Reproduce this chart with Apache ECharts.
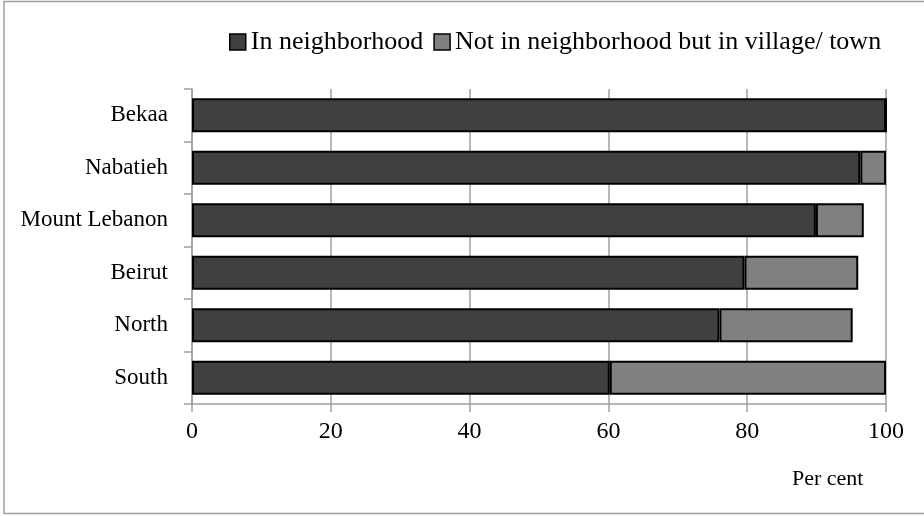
<!DOCTYPE html>
<html>
<head>
<meta charset="utf-8">
<script src="https://cdn.jsdelivr.net/npm/echarts@6/dist/echarts.min.js"></script>
<style>
html,body{margin:0;padding:0;background:#fff;}
#chart{width:924px;height:516px;}
</style>
</head>
<body>
<div id="chart"></div>
<script>
const categories = ["Bekaa", "Nabatieh", "Mount Lebanon", "Beirut", "North", "South"];
const inNeighborhood = [100, 96.3, 89.9, 79.6, 76.0, 60.2];
const inVillage = [0, 3.7, 6.9, 16.4, 19.2, 39.8];
const seriesNames = ["In neighborhood", "Not in neighborhood but in village/ town"];
const xTicks = [0, 20, 40, 60, 80, 100];
const axisTitle = "Per cent";

const FONT = "Liberation Serif";
const chart = echarts.init(document.getElementById('chart'), null, {renderer: 'canvas'});
chart.setOption({
  animation: false,
  backgroundColor: '#fff',
  textStyle: {fontFamily: FONT, color: '#000'},
  legend: {
    left: 224, top: 24,
    itemWidth: 16, itemHeight: 16, itemGap: 10,
    icon: 'rect',
    itemStyle: {borderColor: '#000', borderWidth: 1.5},
    textStyle: {fontFamily: FONT, fontSize: 26, color: '#000'},
    data: seriesNames
  },
  grid: {left: 192, right: 38, top: 89, bottom: 112, containLabel: false},
  xAxis: {
    type: 'value', min: xTicks[0], max: xTicks[xTicks.length-1], interval: 20,
    axisLine: {show: true, lineStyle: {color: '#a0a0a0', width: 1.5}},
    axisTick: {show: true, inside: false, length: 8, lineStyle: {color: '#a0a0a0', width: 1.5}},
    splitLine: {show: true, lineStyle: {color: '#a0a0a0', width: 1.5}},
    axisLabel: {fontFamily: FONT, fontSize: 24, color: '#000', margin: 16}
  },
  yAxis: {
    type: 'category', data: categories, inverse: true,
    axisLine: {show: true, lineStyle: {color: '#a0a0a0', width: 1.5}},
    axisTick: {show: true, length: 8, lineStyle: {color: '#a0a0a0', width: 1.5}},
    axisLabel: {fontFamily: FONT, fontSize: 23, color: '#000', margin: 24}
  },
  series: [
    {name: seriesNames[0], type: 'bar', stack: 'a', barWidth: 34, data: inNeighborhood,
     itemStyle: {color: '#404040', borderColor: '#000', borderWidth: 2}},
    {name: seriesNames[1], type: 'bar', stack: 'a', barWidth: 34, data: inVillage,
     itemStyle: {color: '#808080', borderColor: '#000', borderWidth: 2}}
  ],
  graphic: [
    {type: 'rect', shape: {x: 4, y: 1.5, width: 925, height: 512}, style: {fill: 'none', stroke: '#a0a0a0', lineWidth: 1.5}, silent: true},
    {type: 'text', x: 792, y: 479, style: {text: axisTitle, font: '22px "Liberation Serif"', fill: '#000', verticalAlign: 'middle', align: 'left'}}
  ]
});
</script>
</body>
</html>
